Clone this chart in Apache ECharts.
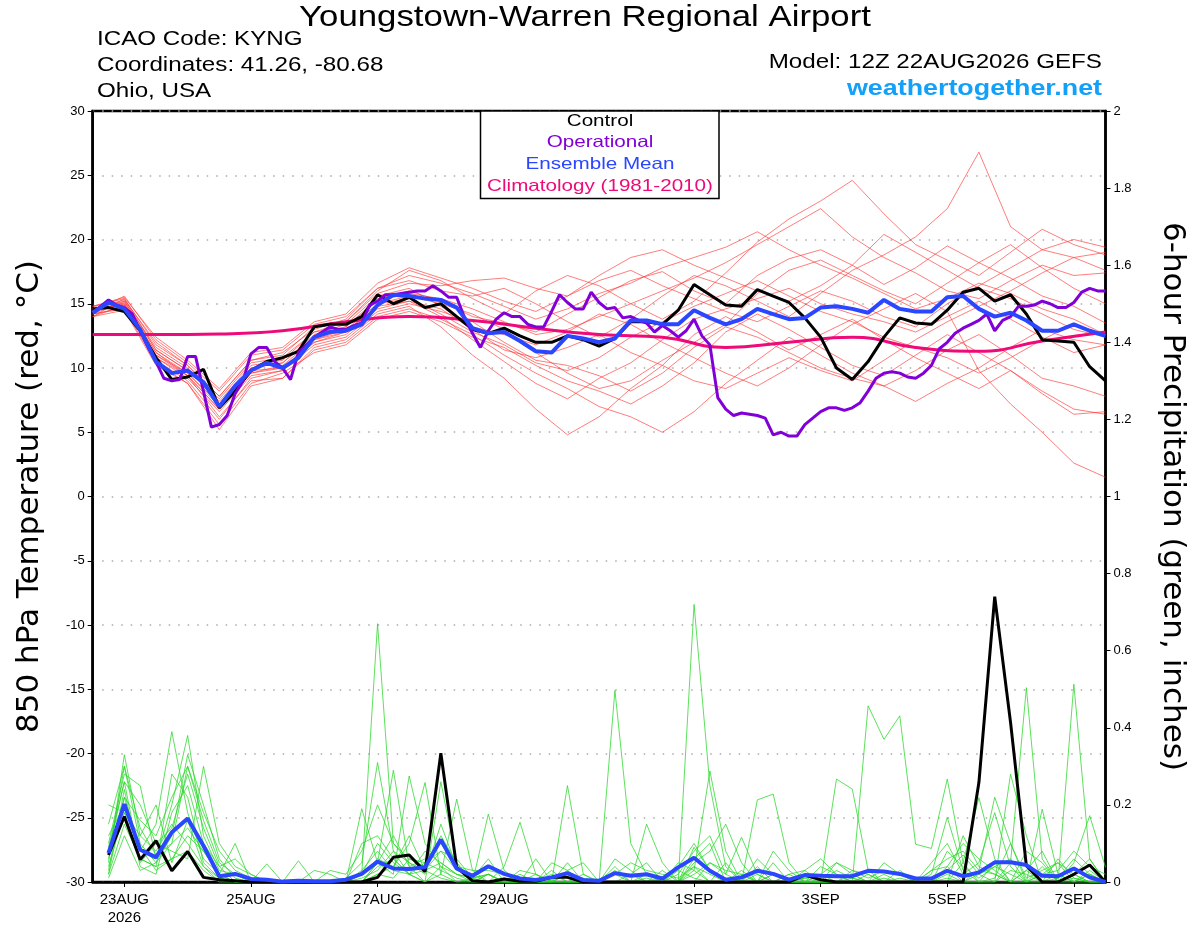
<!DOCTYPE html>
<html><head><meta charset="utf-8">
<script src="https://cdn.jsdelivr.net/npm/echarts@6/dist/echarts.min.js"></script>
<style>html,body{margin:0;padding:0;background:#fff}#c{width:1200px;height:927px}</style>
</head><body><div id="c"></div><script>
const FONT = "'Liberation Sans', Arial, Helvetica, sans-serif";
const WIDE = "'DejaVu Sans', 'Liberation Sans', sans-serif";
// x axis: hours after 12Z 22AUG2026
const tickHours = [12, 60, 108, 156, 228, 276, 324, 372];
const tickLabels = ['23AUG\n2026', '25AUG', '27AUG', '29AUG', '1SEP', '3SEP', '5SEP', '7SEP'];

// 850 hPa temperature, 6-hourly from hour 0
const controlTemp = [14.6,14.7,14.4,12.9,10.8,9.1,9.3,9.9,6.9,8.2,9.8,10.5,10.8,11.3,13.2,13.4,13.4,14.0,15.7,15.0,15.5,14.7,15.0,14.0,13.0,12.7,13.1,12.5,12.0,12.0,12.5,12.2,11.7,12.3,13.6,13.6,13.4,14.5,16.5,15.7,14.9,14.8,16.1,15.6,15.1,13.9,12.4,10.0,9.1,10.5,12.4,13.9,13.5,13.4,14.5,15.9,16.2,15.2,15.7,14.2,12.2,12.1,12.0,10.1,9.0];
const meanTemp = [14.3,15.1,14.6,13.0,10.5,9.6,9.8,8.9,7.0,8.6,9.8,10.4,10.0,10.8,12.4,12.8,12.9,13.4,14.9,15.7,15.6,15.4,15.3,14.7,13.1,12.7,12.8,12.1,11.3,11.2,12.5,12.3,12.0,12.3,13.7,13.7,13.4,13.4,14.5,13.9,13.4,13.8,14.6,14.2,13.8,13.9,14.7,14.8,14.6,14.3,15.3,14.6,14.4,14.4,15.5,15.6,14.6,14.0,14.3,13.7,12.9,12.9,13.4,12.9,12.5];
// operational, 3-hourly from hour 0
const operTemp = [14.3,14.8,15.3,14.9,14.7,14.2,12.9,11.6,10.5,9.2,9.0,9.1,10.9,10.9,8.2,5.4,5.6,6.3,8.0,9.0,11.1,11.6,11.6,10.5,10.0,9.1,11.2,11.8,12.4,12.8,13.2,13.0,13.0,13.3,13.5,14.9,15.2,15.7,15.7,15.8,15.9,16.0,16.0,16.4,16.0,15.5,15.5,13.9,12.7,11.6,12.9,13.8,14.3,14.0,14.0,13.4,13.2,13.2,14.4,15.7,15.1,14.6,14.6,15.9,15.1,14.6,14.7,13.9,14.0,13.7,13.5,12.8,13.3,12.9,12.4,12.9,13.8,12.5,11.8,7.7,6.8,6.3,6.5,6.4,6.3,6.1,4.8,5.0,4.7,4.7,5.6,6.1,6.6,6.9,6.9,6.7,6.9,7.3,8.2,9.2,9.6,9.7,9.6,9.3,9.2,9.6,10.2,11.5,12.0,12.7,13.1,13.4,13.7,14.2,12.9,13.7,14.0,14.8,14.8,14.9,15.2,15.0,14.7,14.7,15.1,15.9,16.2,16.0,16.0];
// climatology, daily from hour 0
const climoTemp = [12.6,12.6,12.65,12.9,13.6,14.0,13.7,13.1,12.6,12.4,11.6,12.0,12.4,11.6,11.3,12.1,12.8];

// ensemble members, 12-hourly from hour 0
const tempMember01 = [14.2,15.2,11.4,9.8,7.4,10.2,10.6,12.8,13.2,15.4,16.0,15.2,14.0,13.5,12.8,14.2,15.5,16.8,17.5,16.0,15.0,17.2,18.5,19.2,18.0,16.5,17.8,19.5,18.2,17.0,15.6,14.8,13.5];
const tempMember02 = [14.6,14.8,10.8,9.2,6.6,9.4,9.8,12.0,12.6,14.6,15.2,14.0,12.2,10.5,8.8,7.6,9.2,10.4,12.2,13.8,14.6,15.4,16.2,15.0,14.2,13.6,12.8,14.0,15.2,13.8,12.4,11.2,11.8];
const tempMember03 = [14.0,15.4,11.8,10.2,7.8,10.6,11.0,13.2,13.6,16.0,17.6,16.8,15.4,14.2,16.0,17.2,16.4,15.0,13.8,15.2,17.4,19.8,21.6,23.0,24.6,22.0,19.6,18.4,17.2,19.0,20.8,19.6,18.8];
const tempMember04 = [14.8,15.0,11.2,9.4,6.2,9.0,9.2,11.6,12.2,14.2,14.8,13.2,11.0,9.2,6.8,4.8,6.2,8.4,10.2,12.6,14.0,12.8,11.4,12.6,13.8,12.2,10.8,9.6,8.4,9.8,8.2,6.8,6.4];
const tempMember05 = [14.4,15.6,12.2,10.4,8.2,11.0,11.4,13.4,14.0,16.2,16.8,16.0,15.6,16.2,15.0,13.6,12.4,13.8,15.6,17.2,16.4,15.2,14.0,15.8,17.6,18.8,20.2,22.4,26.8,21.0,19.2,18.6,17.6];
const tempMember06 = [14.2,14.6,10.4,8.8,5.6,8.8,9.6,11.2,11.8,13.8,14.4,13.6,12.4,11.6,10.2,9.0,8.2,7.2,8.6,10.4,12.8,14.2,13.0,11.6,10.2,9.4,11.0,12.6,11.2,9.8,8.0,6.4,6.6];
const tempMember07 = [14.6,15.2,11.6,10.0,7.2,10.0,10.4,12.6,13.4,15.6,16.2,14.8,13.2,12.6,11.8,12.8,14.2,13.4,12.0,10.8,9.6,8.6,10.0,11.8,13.4,14.6,15.8,14.4,9.8,7.2,5.0,2.6,1.5];
const tempMember08 = [14.0,14.9,11.0,9.6,7.0,9.8,10.0,12.2,12.8,15.0,15.6,15.0,14.2,13.0,11.2,9.6,8.4,9.0,10.6,12.0,13.4,15.8,17.6,18.4,17.2,16.0,15.0,16.6,18.2,19.6,17.8,16.2,15.0];
const tempMember09 = [14.8,15.4,11.4,9.8,7.6,10.4,10.8,12.8,13.6,15.8,16.6,16.4,16.8,17.0,16.2,15.6,17.2,18.6,19.2,18.0,17.0,16.0,15.2,16.4,18.0,20.4,19.0,17.6,16.2,15.4,14.2,13.0,12.4];
const tempMember10 = [14.4,15.0,10.6,9.0,6.0,9.2,9.8,11.8,12.4,14.4,15.0,14.4,13.6,12.0,10.6,10.2,9.4,8.2,9.6,11.6,13.2,12.4,11.2,10.0,9.2,8.6,9.8,11.4,12.6,11.0,9.2,8.6,7.8];
const tempMember11 = [14.6,15.3,12.0,10.2,7.8,10.6,11.2,13.0,13.8,16.2,17.2,16.6,15.8,14.8,13.8,14.6,15.8,16.6,17.8,18.6,19.4,20.6,19.2,18.0,17.0,15.8,14.6,15.4,16.6,15.8,14.6,13.8,12.6];
const tempMember12 = [14.2,14.7,10.8,9.4,6.8,9.6,10.0,12.0,12.8,14.8,15.2,14.6,13.0,11.4,10.8,11.6,12.6,11.2,10.2,9.0,8.4,9.6,10.8,9.8,9.0,10.6,12.2,13.6,14.8,16.0,17.4,18.6,19.0];
const tempMember13 = [14.4,15.1,11.2,9.6,7.2,10.0,10.4,12.4,13.2,15.2,15.8,15.4,14.6,13.6,12.6,13.0,14.0,15.0,16.0,17.0,18.2,19.6,21.0,22.4,20.2,18.6,17.4,16.0,15.4,16.8,18.0,17.2,17.4];
const tempMember14 = [14.0,14.5,10.2,8.8,5.2,8.6,9.2,11.4,12.0,14.0,14.6,13.8,12.6,11.0,9.6,8.4,7.0,6.2,5.0,6.6,8.8,10.6,12.4,11.0,9.6,8.6,7.4,8.8,10.0,11.6,13.0,12.2,11.8];
const tempMember15 = [14.8,15.5,12.4,10.6,8.4,11.2,11.6,13.6,14.2,16.6,17.8,17.0,16.2,15.2,14.4,15.6,16.8,17.6,16.4,15.4,14.4,13.6,14.8,16.0,15.2,14.0,13.2,15.0,16.4,17.8,19.2,20.0,19.4];
const tempMember16 = [14.6,14.9,11.0,9.4,6.8,9.6,10.2,12.2,13.0,15.0,15.4,14.2,12.8,11.8,10.4,9.8,10.8,12.4,13.6,14.8,15.8,16.8,15.6,14.4,13.6,12.4,11.6,10.8,9.6,10.8,12.2,13.4,12.6];

// 6-hour precipitation (inches), 6-hourly from hour 6
const controlPrecip = [.070,.170,.058,.107,.029,.079,.012,.006,.003, 0,0,0,0,0,0,0,0, .012,.064,.070,.027,.334,.038,.003,0,.008,.002,.002,.012,.012,0, 0,0,0,0,0,0,0,0,0,0,0,0,0, .018,.006, 0,0,0,0,0,0,0,0,0, .258,.740,.414,.042,0,0,.020,.044,0];
const meanPrecip = [.075,.202,.084,.064,.129,.165,.094,.015,.021,.008,.006,.001,.003,.002,.002,.006,.021,.053,.035,.034,.038,.110,.035,.016,.041,.021,.009,.005,.012,.023,.005,.003,.023,.016,.020,.009,.038,.063,.029,.006,.012,.029,.021,.006,.018,.016,.015,.015,.029,.027,.021,.009,.009,.029,.015,.025,.051,.051,.044,.016,.015,.035,.012,0];
const precipMember01 = [.05,.33,.12,.08,.15,.10,.04,.01, 0,0,0,0,0,0,0,0, .02,.67,.10,.05,.03,.01,0,0, 0,0,0,.02,0,0,0,0, 0,0,0,0,.04,.10,.03,0, 0,0,.02,0,0,0,.05,.02, 0,0,0,0,0,.01,0,.03, .22,.10,0,0,.02,0,0,0];
const precipMember02 = [.10,.28,.25,.06,.20,.38,.12,.03, .02,0,0,0,0,0,0,.01, .05,.31,.08,.02,0,.26,.05,0, .02,0,0,0,0,.25,.02,0, 0,0,0,0,0,0,0,.05, 0,0,.08,.03,0,0,0,0, .457,.37,.431,.098,.087,.267,.05,0, 0,0,.03,0,0,.02,0,0];
const precipMember03 = [.02,.22,.08,.15,.39,.18,.06,.02, .10,0,.047,0,0,0,0,0, .19,.05,.29,.04,0,.02,.215,.03, 0,0,0,0,0,0,0,0, .497,.10,.02,0,0,.03,.288,.08, 0,.02,0,0,0,0,0,0, 0,0,0,0,.02,.168,.03,0, 0,.05,.504,.06,0,0,.02,0];
const precipMember04 = [.15,.30,.10,.05,.12,.33,.20,.06, .01,0,0,0,0,0,0,0, 0,.05,.02,.275,.10,.04,0,0, .176,.03,0,0,0,0,0,0, 0,0,.15,.05,0,.72,.25,.04, 0,0,0,0,0,0,.03,.01, 0,0,0,0,0,0,.05,.219, .06,0,0,.189,.02,0,.03,0];
const precipMember05 = [.08,.26,.05,.10,.08,.06,.30,.10, .04,.02,0,0,.055,0,0,0, .02,.10,.05,.02,.05,.08,.03,.02, 0,.04,.155,.02,0,0,0,0, 0,0,0,0,0,0,.05,.02, .116,.02,0,0,0,0,.267,.241, .03,0,0,0,0,0,0,0, 0,.28,.12,0,0,.513,.06,0];
const precipMember06 = [.20,.18,.06,.04,.06,.12,.08,.02, 0,0,0,0,0,0,.03,.02, .08,.20,.10,.06,.04,.12,.05,0, .02,0,0,0,.05,.03,0,0, .03,0,.01,0,0,.06,.10,0, 0,.213,.228,.05,0,0,0,0, 0,0,0,0,0,0,.12,.04, .02,0,.03,.08,0,.05,.172,.038];
const precipMember07 = [.03,.24,.04,.02,.18,.25,.10,.04, .06,.02,0,0,0,0,0,0, 0,.02,.04,.10,.258,.02,0,.01, .02,0,0,0,0,0,0,0, .06,.03,0,0,0,.02,.05,.03, .02,0,0,.02,.03,0,0,0, 0,0,0,0,.05,.10,.02,.05, .18,.04,0,.02,.05,.02,0,0];
const precipMember08 = [.12,.20,.09,.03,.06,.08,.03,0, 0,0,0,0,0,0,0,0, 0,.04,.06,.02,.03,.05,.02,.01, .06,0,.03,.02,0,.02,.01,0, .02,.05,.03,.02,.01,.04,.02,0, .03,0,.05,0,0,0,0,.02, 0,.02,0,0,.03,.04,0,0, .01,.10,.01,.03,.05,0,.02,0];
const precipMember09 = [.06,.30,.14,.07,.10,.30,.16,.05, .02,0,0,0,0,0,0,0, .03,.08,.03,.02,0,.04,.02,0, 0,0,0,0,.02,0,0,0, 0,0,0,0,.02,.08,.12,.02, 0,0,.02,0,.03,.06,.02,0, .02,0,0,0,0,.03,.07,.02, 0,.03,.02,0,.01,.06,.02,0];
const precipMember10 = [.04,.18,.12,.20,.05,.16,.04,0, 0,0,0,0,0,0,0,0, 0,.05,.12,.04,.06,.10,.04,.03, .03,.02,0,.06,0,.02,0,0, .02,.02,.05,0,0,.09,.03,.01, 0,.04,0,.02,0,0,0,.03, .01,.03,.02,0,0,.08,.04,.01, .04,.02,0,0,.06,.01,0,0];
const precipMember11 = [.02,.15,.06,.04,.28,.22,.05,.01, 0,0,0,0,0,0,0,0, 0,.02,.01,.06,.05,.03,.01,0, 0,0,0,0,.03,0,.02,0, .04,0,.02,0,.03,.01,0,0, .02,0,0,0,0,.02,0,.01, 0,0,.03,0,0,.02,0,0, .05,0,0,.04,0,.01,0,0];
const precipMember12 = [.09,.26,.20,.10,.14,.28,.14,.04, 0,0,0,0,0,0,0,0, .02,.06,.04,.12,.03,.08,.06,.01, 0,.01,0,0,0,0,0,0, 0,0,0,.01,0,.04,0,0, 0,0,0,0,.01,0,0,0, 0,.01,0,0,0,0,0,.02, .04,.06,0,0,0,0,0,0];
const precipMember13 = [.07,.22,.16,.12,.22,.30,.18,.08, .03,.01,0,0,0,0,0,0, .01,.03,.08,.05,.02,.15,.04,0, 0,0,.02,0,0,.05,0,0, .02,0,0,.03,0,.05,.08,.15, .05,0,0,0,0,.04,.02,0, 0,.05,.02,0,0,.04,.10,.06, .03,0,.08,.05,0,.02,.06,0];
const precipMember14 = [.01,.12,.03,.05,.10,.14,.08,.02, 0,0,0,0,0,.03,.02,0, .10,.12,.06,.02,.08,.05,.02,.01, .02,0,0,0,0,.03,.05,0, 0,.02,0,0,.05,.03,0,0, 0,.06,.02,0,.01,.02,.05,.03, .02,0,.01,0,.03,.06,.08,.03, .02,0,0,.02,.03,.08,.04,.02];

const tempMembers = [tempMember01,tempMember02,tempMember03,tempMember04,tempMember05,tempMember06,tempMember07,tempMember08,tempMember09,tempMember10,tempMember11,tempMember12,tempMember13,tempMember14,tempMember15,tempMember16];
const precipMembers = [precipMember01,precipMember02,precipMember03,precipMember04,precipMember05,precipMember06,precipMember07,precipMember08,precipMember09,precipMember10,precipMember11,precipMember12,precipMember13,precipMember14];

function pairs(arr, start, step) { return arr.map((v, i) => [start + i * step, v]); }

const series = [];
tempMembers.forEach(m => series.push({
  type: 'line', data: pairs(m, 0, 12), symbol: 'none', silent: true, z: 1,
  lineStyle: { color: 'rgba(255,50,50,0.8)', width: 0.8 }
}));
precipMembers.forEach(m => series.push({
  type: 'line', yAxisIndex: 1, data: pairs(m, 6, 6), symbol: 'none', silent: true, z: 1,
  lineStyle: { color: 'rgba(40,215,40,0.95)', width: 0.8 }
}));
series.push({ type: 'line', data: pairs(climoTemp, 0, 24), smooth: true, symbol: 'none', z: 3, lineStyle: { color: '#ee0a78', width: 3 } });
series.push({ type: 'line', data: pairs(controlTemp, 0, 6), symbol: 'none', z: 4, lineStyle: { color: '#000', width: 3 } });
series.push({ type: 'line', yAxisIndex: 1, data: pairs(controlPrecip, 6, 6), symbol: 'none', z: 4, lineStyle: { color: '#000', width: 3 } });
series.push({ type: 'line', data: pairs(operTemp, 0, 3), symbol: 'none', z: 5, lineStyle: { color: '#8200d8', width: 3 } });
series.push({ type: 'line', data: pairs(meanTemp, 0, 6), symbol: 'none', z: 6, lineStyle: { color: '#2a46ff', width: 4 } });
series.push({ type: 'line', yAxisIndex: 1, data: pairs(meanPrecip, 6, 6), symbol: 'none', z: 6, lineStyle: { color: '#2a46ff', width: 4 } });

function hdr(text, x, y, size, opts) {
  opts = opts || {};
  return { type: 'text', x: x, y: y, scaleX: opts.sx || 1.24, z: opts.z || 10,
    style: { text: text, font: (opts.bold ? 'bold ' : '') + size + 'px ' + FONT, fill: opts.fill || '#000',
      align: opts.align || 'left', verticalAlign: 'middle' } };
}

const chart = echarts.init(document.getElementById('c'), null, { renderer: 'canvas' });
chart.setOption({
  animation: false,
  backgroundColor: '#fff',
  textStyle: { fontFamily: FONT },
  grid: { left: 92.7, right: 94.5, top: 111, bottom: 44, show: true, borderColor: '#000', borderWidth: 2.5, backgroundColor: 'transparent' },
  xAxis: {
    type: 'value', min: 0, max: 384,
    axisLine: { show: true, onZero: false, lineStyle: { color: '#000', width: 2.5 } },
    axisTick: { show: true, customValues: tickHours, length: 5, lineStyle: { color: '#000', width: 1 } },
    axisLabel: {
      customValues: tickHours, color: '#000', fontSize: 15, fontFamily: FONT, margin: 9, lineHeight: 18,
      formatter: v => { const i = tickHours.indexOf(Math.round(v)); return i >= 0 ? tickLabels[i] : ''; }
    },
    splitLine: { show: false }
  },
  yAxis: [{
    type: 'value', min: -30, max: 30, interval: 5, position: 'left',
    name: '850 hPa Temperature (red, \u00B0C)', nameLocation: 'middle', nameGap: 47,
    nameTextStyle: { fontSize: 31, color: '#000', fontFamily: WIDE },
    axisLine: { show: true, lineStyle: { color: '#000', width: 2.5 } },
    axisTick: { show: true, length: 5, lineStyle: { color: '#000', width: 1 } },
    axisLabel: { color: '#000', fontSize: 13, fontFamily: FONT, margin: 8 },
    splitLine: { show: true, lineStyle: { color: '#aaa', width: 1.5, type: [1.5, 8] } }
  }, {
    type: 'value', min: 0, max: 2, interval: 0.2, position: 'right',
    name: '6-hour Precipitation (green, inches)', nameLocation: 'middle', nameGap: 51, nameRotate: -90,
    nameTextStyle: { fontSize: 31, color: '#000', fontFamily: WIDE },
    axisLine: { show: true, lineStyle: { color: '#000', width: 2.5 } },
    axisTick: { show: true, length: 5, lineStyle: { color: '#000', width: 1 } },
    axisLabel: { color: '#000', fontSize: 13, fontFamily: FONT, margin: 8, formatter: v => String(+v.toFixed(1)) },
    splitLine: { show: false }
  }],
  graphic: [
    hdr('Youngstown-Warren Regional Airport', 585, 18, 29, { align: 'center', sx: 1.2 }),
    hdr('ICAO Code: KYNG', 97, 40, 19.5),
    hdr('Coordinates: 41.26, -80.68', 97, 66, 19.5),
    hdr('Ohio, USA', 97, 92, 19.5),
    hdr('Model: 12Z 22AUG2026 GEFS', 1102, 63, 19.5, { align: 'right' }),
    hdr('weathertogether.net', 1102, 89, 22, { align: 'right', bold: true, fill: '#12a0f8', sx: 1.22 }),
    { type: 'rect', shape: { x: 480.5, y: 111, width: 238.5, height: 87.5 }, style: { fill: '#fff', stroke: '#000', lineWidth: 1.5 }, z: 100 },
    hdr('Control', 600, 121, 16.5, { align: 'center', sx: 1.25, z: 101 }),
    hdr('Operational', 600, 142, 16.5, { align: 'center', sx: 1.25, z: 101, fill: '#8200d8' }),
    hdr('Ensemble Mean', 600, 164, 16.5, { align: 'center', sx: 1.25, z: 101, fill: '#2a46ff' }),
    hdr('Climatology (1981-2010)', 600, 186, 16.5, { align: 'center', sx: 1.25, z: 101, fill: '#ee0a78' })
  ],
  series: series
});
</script></body></html>
